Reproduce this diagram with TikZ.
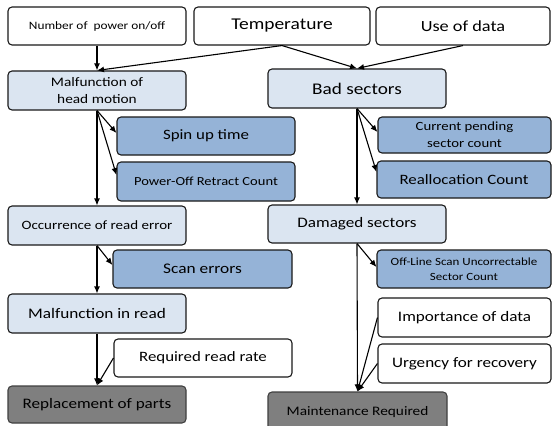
\documentclass[tikz,border=0pt]{standalone}
\usepackage{fontspec}
\setmainfont{Carlito}[FakeStretch=1.18]
\usetikzlibrary{arrows.meta}
\definecolor{lightb}{HTML}{DBE5F1}
\definecolor{midb}{HTML}{95B3D7}
\definecolor{greyb}{HTML}{7F7F7F}
\definecolor{edgec}{HTML}{1A1A1A}
\newcommand{\sz}[2]{\fontsize{#1}{#2}\selectfont}
\tikzset{
  basebox/.style={draw=edgec, line width=1.1pt, rounded corners=4pt, inner sep=0pt, align=center, text=black},
  whitebox/.style={basebox, fill=white},
  lightbox/.style={basebox, fill=lightb},
  midbox/.style={basebox, fill=midb},
  greybox/.style={basebox, fill=greyb, draw=black!75},
  arr/.style={draw=black, line width=1.1pt, -{Latex[length=7pt,width=6pt]}},
}
\begin{document}
\begin{tikzpicture}[x=1pt,y=-1pt]
\clip (0,0) rectangle (553,425);
\fill[white] (0,0) rectangle (553,425);
% top row
\node[whitebox, minimum width=178, minimum height=38, font=\sz{11.3}{14}] (npo) at (97,26) {Number of\ \ power on/off};
\node[whitebox, minimum width=176, minimum height=38, font=\sz{16.5}{18}] (temp) at (282,26) {Temperature};
\node[whitebox, minimum width=174, minimum height=38, font=\sz{15.5}{18}] (use) at (463,26) {Use of data};
% second row
\node[lightbox, minimum width=178, minimum height=39, font=\sz{13}{17}] (mh) at (97,90.5) {Malfunction of\\head motion};
\node[lightbox, minimum width=178, minimum height=39, font=\sz{16.3}{18}] (bad) at (357,88.5) {Bad sectors};
% sub nodes
\node[midbox, minimum width=178, minimum height=38, font=\sz{14.3}{16}] (spin) at (206,136) {Spin up time};
\node[midbox, minimum width=178, minimum height=39, font=\sz{12.3}{14}] (poff) at (206,181.5) {Power-Off Retract Count};
\node[midbox, minimum width=173, minimum height=36, font=\sz{12.5}{17}] (cur) at (464.5,135) {Current pending\\sector count};
\node[midbox, minimum width=174, minimum height=37, font=\sz{14.3}{16}] (real) at (464,179.5) {Reallocation Count};
% third row
\node[lightbox, minimum width=178, minimum height=39, font=\sz{12.7}{14}] (occ) at (97,225.5) {Occurrence of read error};
\node[lightbox, minimum width=178, minimum height=38, font=\sz{14.5}{16}] (dam) at (357,224) {Damaged sectors};
\node[midbox, minimum width=179, minimum height=38, font=\sz{14.7}{16}] (scan) at (202.5,269) {Scan errors};
\node[midbox, minimum width=174, minimum height=38, font=\sz{11}{15}] (off) at (464,269) {Off-Line Scan Uncorrectable\\Sector Count};
% fourth row
\node[lightbox, minimum width=178, minimum height=39, font=\sz{14.6}{16}] (mr) at (97,313.5) {Malfunction in read};
\node[whitebox, minimum width=178, minimum height=38, font=\sz{14.3}{16}] (rrr) at (203,358) {Required read rate};
\node[whitebox, minimum width=173, minimum height=39, font=\sz{14.5}{16}] (imp) at (464.5,317.5) {Importance of data};
\node[whitebox, minimum width=173, minimum height=39, font=\sz{14.5}{16}] (urg) at (464.5,363.5) {Urgency for recovery};
% bottom
\node[greybox, minimum width=178, minimum height=37, font=\sz{14.5}{16}] (rep) at (97,404.5) {Replacement of parts};
\node[greybox, minimum width=179, minimum height=40, font=\sz{13}{15}] (mnt) at (357.5,412) {\raisebox{2pt}{Maintenance Required}};
% arrows
\draw[arr] (npo.south) -- (mh.north);
\draw[arr] (temp.south) -- (mh.north);
\draw[arr] (temp.south) -- (bad.north);
\draw[arr] (use.south) -- (bad.north);
\draw[arr] (mh.south) -- ([yshift=3pt]spin.west);
\draw[arr] (mh.south) -- ([yshift=6.5pt]poff.west);
\draw[arr] (mh.south) -- (occ.north);
\draw[arr] (bad.south) -- ([yshift=3pt]cur.west);
\draw[arr] (bad.south) -- ([yshift=7.5pt]real.west);
\draw[arr] (bad.south) -- (dam.north);
\draw[arr] (occ.south) -- ([yshift=4pt]scan.west);
\draw[arr] (occ.south) -- (mr.north);
\draw[arr] (dam.south) -- ([yshift=2pt]off.west);
\draw[arr] (dam.south) -- (mnt.north);
\draw[arr] (mr.south) -- (rep.north);
\draw[arr] (rrr.west) -- (rep.north);
\draw[arr] (imp.west) -- (mnt.north);
\draw[arr] (urg.west) -- (mnt.north);
\end{tikzpicture}
\end{document}
